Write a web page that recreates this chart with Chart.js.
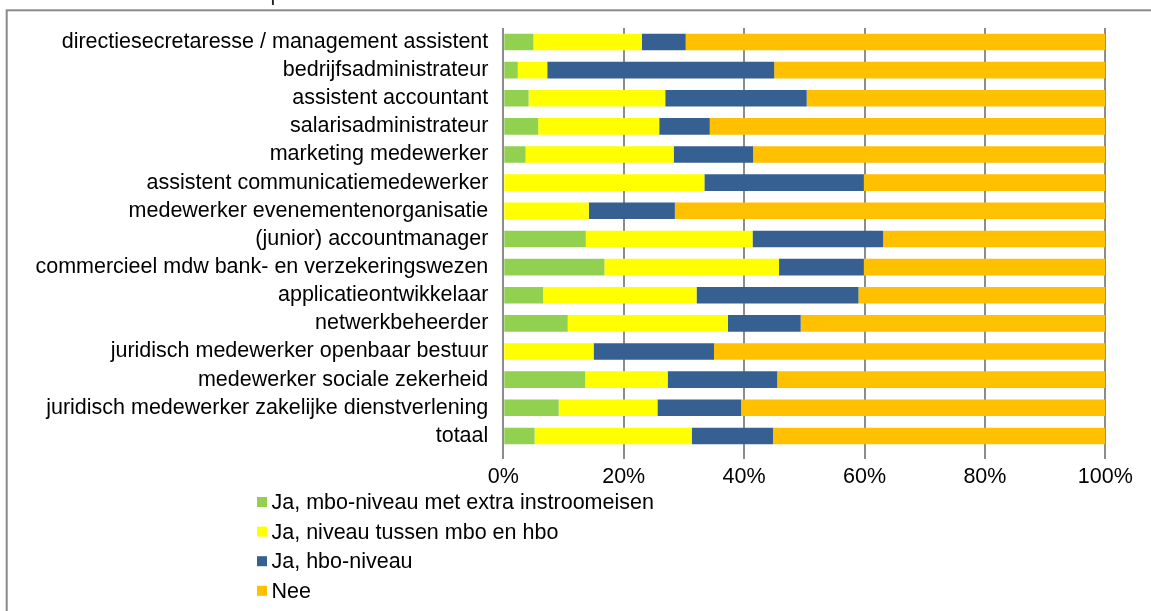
<!DOCTYPE html>
<html>
<head>
<meta charset="utf-8">
<script src="https://cdn.jsdelivr.net/npm/chart.js@4/dist/chart.umd.min.js"></script>
<style>
  html, body { margin: 0; padding: 0; background: #ffffff; }
  #wrap { width: 1151px; height: 611px; position: relative; }
</style>
</head>
<body>
<div id="wrap"><canvas id="c" width="1151" height="611"></canvas></div>
<script>
const categories = [
  "directiesecretaresse / management assistent",
  "bedrijfsadministrateur",
  "assistent accountant",
  "salarisadministrateur",
  "marketing medewerker",
  "assistent communicatiemedewerker",
  "medewerker evenementenorganisatie",
  "(junior) accountmanager",
  "commercieel mdw bank- en verzekeringswezen",
  "applicatieontwikkelaar",
  "netwerkbeheerder",
  "juridisch medewerker openbaar bestuur",
  "medewerker sociale zekerheid",
  "juridisch medewerker zakelijke dienstverlening",
  "totaal"
];
const seriesNames = [
  "Ja, mbo-niveau met extra instroomeisen",
  "Ja, niveau tussen mbo en hbo",
  "Ja, hbo-niveau",
  "Nee"
];
const mboExtra   = [5.0, 2.4, 4.2, 5.8, 3.7, 0.0, 0.0, 13.7, 16.8, 6.6, 10.7, 0.0, 13.6, 9.2, 5.2];
const tussen     = [18.0, 4.9, 22.7, 20.1, 24.6, 33.4, 14.2, 27.7, 29.0, 25.5, 26.6, 15.0, 13.7, 16.4, 26.1];
const hbo        = [7.3, 37.7, 23.5, 8.4, 13.2, 26.5, 14.3, 21.7, 14.1, 26.9, 12.1, 20.0, 18.2, 13.9, 13.5];
const nee        = [69.7, 55.0, 49.6, 65.7, 58.5, 40.1, 71.5, 36.9, 40.1, 41.0, 50.6, 65.0, 54.5, 60.5, 55.2];
const xTickValues = [0, 20, 40, 60, 80, 100];

const colors = ["#92D050", "#FFFF00", "#366092", "#FFC000"];
const FONT = "'Liberation Sans', Arial, sans-serif";
const FS = 21.5;

const decor = {
  id: 'decor',
  beforeDraw(chart) {
    const ctx = chart.ctx;
    ctx.save();
    ctx.fillStyle = '#ffffff';
    ctx.fillRect(0, 0, chart.width, chart.height);
    ctx.strokeStyle = '#8a8a8a';
    ctx.lineWidth = 2;
    ctx.strokeRect(6.7, 10.3, 1300, 800);
    // fragment of the cut-off title above the frame
    ctx.fillStyle = '#222222';
    ctx.font = FS + 'px ' + FONT;
    ctx.textBaseline = 'alphabetic';
    ctx.fillText('p', 270.5, 0);
    ctx.restore();
  },
  afterDraw(chart) {
    const ctx = chart.ctx;
    ctx.save();
    ctx.font = FS + 'px ' + FONT;
    ctx.textBaseline = 'middle';
    ctx.textAlign = 'left';
    chart.data.datasets.forEach((ds, i) => {
      const y = 502 + i * 29.6;
      ctx.fillStyle = ds.backgroundColor;
      ctx.fillRect(257, y - 5, 10, 10);
      ctx.fillStyle = '#000000';
      ctx.fillText(ds.label, 271.5, y + 1);
    });
    ctx.restore();
  }
};

const datasets = [mboExtra, tussen, hbo, nee].map((d, i) => ({
  label: seriesNames[i],
  data: d,
  backgroundColor: colors[i],
  borderWidth: 0,
  barPercentage: 1.0,
  categoryPercentage: 0.59
}));

new Chart(document.getElementById('c'), {
  type: 'bar',
  data: { labels: categories, datasets },
  options: {
    indexAxis: 'y',
    responsive: false,
    animation: false,
    devicePixelRatio: 1,
    layout: { padding: { left: 0, top: 26, right: 45.7, bottom: 0 } },
    plugins: {
      legend: { display: false },
      tooltip: { enabled: false },
      title: { display: false }
    },
    scales: {
      x: {
        stacked: true,
        min: 0,
        max: 100,
        afterBuildTicks(scale) { scale.ticks = xTickValues.map(v => ({ value: v })); },
        afterFit(scale) { scale.height = 161; },
        ticks: {
          callback: v => v + '%',
          color: '#000000',
          font: { family: FONT, size: FS },
          padding: 5,
          maxRotation: 0,
          autoSkip: false
        },
        grid: {
          color: '#8c8c8c',
          lineWidth: 2,
          tickLength: 9,
          drawTicks: true
        },
        border: { display: false }
      },
      y: {
        stacked: true,
        afterFit(scale) { scale.width = 503.3; },
        ticks: {
          color: '#000000',
          font: { family: FONT, size: FS },
          padding: 15,
          autoSkip: false
        },
        grid: { display: false, drawTicks: false },
        border: { display: false }
      }
    }
  },
  plugins: [decor]
});
</script>
</body>
</html>
